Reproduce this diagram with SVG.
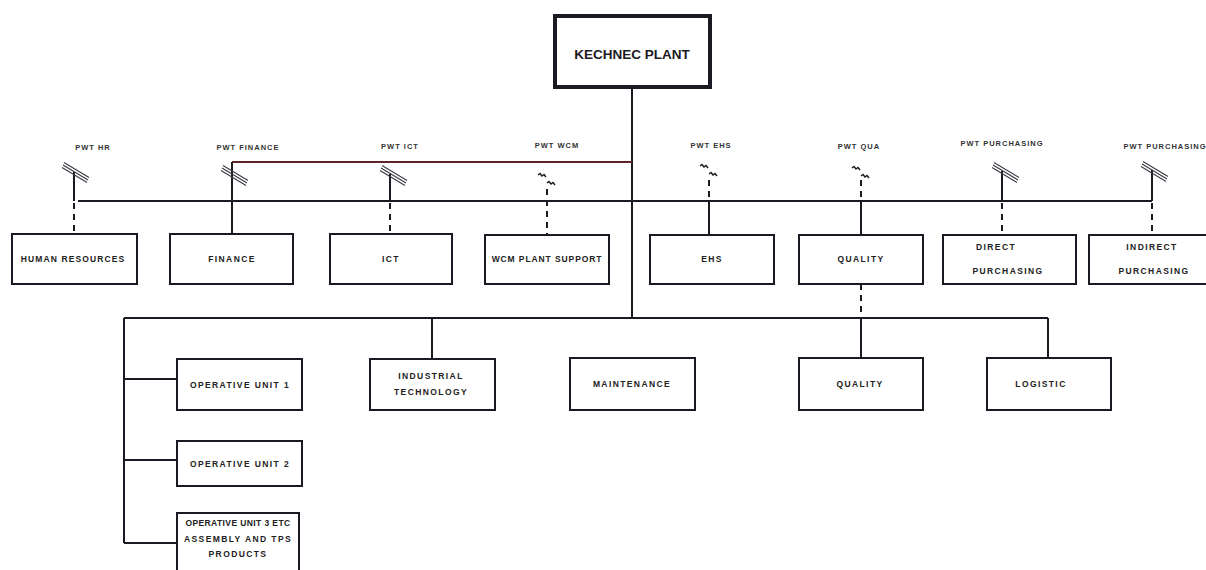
<svg xmlns="http://www.w3.org/2000/svg" width="1206" height="570" viewBox="0 0 1206 570">
<style>
.box{fill:#fff;stroke:#1a1a22;stroke-width:2}
.top{fill:#fff;stroke:#1a1a22;stroke-width:4}
.ln{fill:none;stroke:#1a1a22;stroke-width:2}
.red{fill:none;stroke:#5a2428;stroke-width:2}
.dash{fill:none;stroke:#1a1a22;stroke-width:2;stroke-dasharray:6 5}
.sym{fill:none;stroke:#3a3a44;stroke-width:1.1}
.zz{fill:none;stroke:#1a1a22;stroke-width:1.5}
.t{font-family:"Liberation Sans",Arial,sans-serif;font-weight:bold;font-size:8.5px;letter-spacing:1.4px;fill:#222;text-anchor:middle}
.p{font-family:"Liberation Sans",Arial,sans-serif;font-weight:bold;font-size:7.5px;letter-spacing:1px;fill:#333;text-anchor:middle}
.k{font-family:"Liberation Sans",Arial,sans-serif;font-weight:bold;font-size:13.5px;fill:#1a1a22;text-anchor:middle}
</style>
<defs>
<g id="hatch">
<path class="sym" d="M-11,-10.5 L14,4.5 M-12,-8 L13,7 M-13,-5.5 L12,9.5"/>
</g>
<g id="zig">
<path class="zz" d="M-9,-7 l2,-1.5 l2,2.5 l2,-1.5 l2,2.5 M0,1 l2,-1.5 l2,2.5 l2,-1.5 l2,2.5"/>
</g>
</defs>
<rect width="1206" height="570" fill="#fff"/>

<g id="connectors">
<path class="ln" d="M632,88 V318"/>
<path class="red" d="M232,162 H632"/>
<path class="ln" d="M232,162 V234"/>
<path class="ln" d="M78,201 H1152"/>
<path class="ln" d="M124,318 H1048"/>
<path class="ln" d="M124,318 V543"/>
<path class="ln" d="M124,379 H177 M124,460 H177 M124,543 H177"/>
<path class="ln" d="M432,318 V359"/>
<path class="dash" d="M861,284 V318"/>
<path class="ln" d="M861,318 V358"/>
<path class="ln" d="M1048,318 V358"/>
<path class="ln" d="M74,172 V201"/>
<path class="dash" d="M74,203 V234"/>
<path class="ln" d="M390,174 V201"/>
<path class="dash" d="M390,203 V234"/>
<path class="dash" d="M547,189 V235"/>
<path class="dash" d="M709,180 V201"/>
<path class="ln" d="M709,201 V235"/>
<path class="dash" d="M861,180 V201"/>
<path class="ln" d="M861,201 V235"/>
<path class="ln" d="M1002,171 V201"/>
<path class="dash" d="M1002,203 V235"/>
<path class="ln" d="M1152,170 V201"/>
<path class="dash" d="M1152,203 V235"/>
<use href="#hatch" x="75" y="173"/>
<use href="#hatch" x="234" y="176"/>
<use href="#hatch" x="393" y="176"/>
<use href="#hatch" x="1005" y="173"/>
<use href="#hatch" x="1154" y="172"/>
<use href="#zig" x="547" y="182"/>
<use href="#zig" x="709" y="173"/>
<use href="#zig" x="861" y="175"/>
</g>

<g id="pwt-labels">
<text class="p" x="93" y="150">PWT HR</text>
<text class="p" x="248" y="150">PWT FINANCE</text>
<text class="p" x="400" y="149">PWT ICT</text>
<text class="p" x="557" y="148">PWT WCM</text>
<text class="p" x="711" y="148">PWT EHS</text>
<text class="p" x="859" y="149">PWT QUA</text>
<text class="p" x="1002" y="146">PWT PURCHASING</text>
<text class="p" x="1165" y="149">PWT PURCHASING</text>
</g>

<g id="kechnec">
<rect class="top" x="555" y="16" width="155" height="71"/>
<text class="k" x="632" y="59">KECHNEC PLANT</text>
</g>
<g id="hr">
<rect class="box" x="12" y="234" width="125" height="50"/>
<text class="t" x="73" y="262" style="letter-spacing:1.1px">HUMAN RESOURCES</text>
</g>
<g id="finance">
<rect class="box" x="170" y="234" width="123" height="50"/>
<text class="t" x="232" y="262">FINANCE</text>
</g>
<g id="ict">
<rect class="box" x="330" y="234" width="122" height="50"/>
<text class="t" x="391" y="262">ICT</text>
</g>
<g id="wcm">
<rect class="box" x="485" y="235" width="124" height="49"/>
<text class="t" x="547" y="262" style="letter-spacing:0.9px">WCM PLANT SUPPORT</text>
</g>
<g id="ehs">
<rect class="box" x="650" y="235" width="124" height="49"/>
<text class="t" x="712" y="262">EHS</text>
</g>
<g id="quality">
<rect class="box" x="799" y="235" width="124" height="49"/>
<text class="t" x="861" y="262">QUALITY</text>
</g>
<g id="direct">
<rect class="box" x="943" y="235" width="133" height="49"/>
<text class="t" x="996" y="250">DIRECT</text>
<text class="t" x="1008" y="274">PURCHASING</text>
</g>
<g id="indirect">
<rect class="box" x="1089" y="235" width="125" height="49"/>
<text class="t" x="1152" y="250">INDIRECT</text>
<text class="t" x="1154" y="274">PURCHASING</text>
</g>
<g id="op1">
<rect class="box" x="177" y="359" width="125" height="51"/>
<text class="t" x="240" y="388">OPERATIVE UNIT 1</text>
</g>
<g id="op2">
<rect class="box" x="177" y="441" width="125" height="45"/>
<text class="t" x="240" y="467">OPERATIVE UNIT 2</text>
</g>
<g id="op3">
<rect class="box" x="177" y="513" width="122" height="70"/>
<text class="t" x="238" y="526" style="letter-spacing:0.4px">OPERATIVE UNIT 3 ETC</text>
<text class="t" x="238" y="542">ASSEMBLY AND TPS</text>
<text class="t" x="238" y="557">PRODUCTS</text>
</g>
<g id="industrial">
<rect class="box" x="370" y="359" width="125" height="51"/>
<text class="t" x="431" y="379">INDUSTRIAL</text>
<text class="t" x="431" y="395">TECHNOLOGY</text>
</g>
<g id="maintenance">
<rect class="box" x="570" y="358" width="125" height="52"/>
<text class="t" x="632" y="387">MAINTENANCE</text>
</g>
<g id="quality2">
<rect class="box" x="799" y="358" width="124" height="52"/>
<text class="t" x="860" y="387">QUALITY</text>
</g>
<g id="logistic">
<rect class="box" x="987" y="358" width="124" height="52"/>
<text class="t" x="1041" y="387">LOGISTIC</text>
</g>
</svg>
